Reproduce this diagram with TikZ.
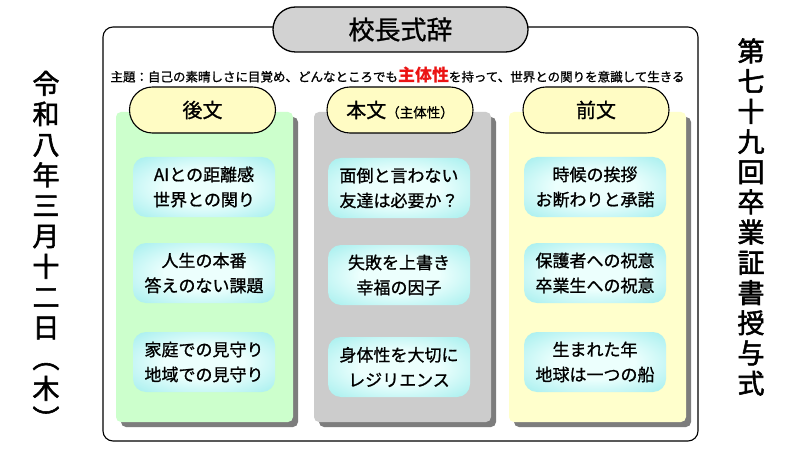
\documentclass[tikz,border=0pt]{standalone}
\usepackage{fontspec}
\setmainfont{Noto Sans CJK JP}
\newfontfamily\jp{Noto Sans CJK JP}
\newfontfamily\jpm[FakeBold=1]{Noto Sans CJK JP}
\newfontfamily\jpv[FakeBold=2]{Noto Sans CJK JP}
\usetikzlibrary{shapes.misc,shadows}
\definecolor{greenp}{RGB}{204,255,204}
\definecolor{grayp}{RGB}{204,204,204}
\definecolor{yellowp}{RGB}{255,255,204}
\definecolor{shadowc}{RGB}{125,125,125}
\definecolor{pillc}{RGB}{255,252,196}
\definecolor{titlec}{RGB}{210,210,210}
\definecolor{boxin}{RGB}{236,255,253}
\definecolor{boxout}{RGB}{118,228,228}
\definecolor{redt}{RGB}{235,20,20}
\pgfdeclareradialshading{cyanrad}{\pgfpoint{0bp}{0bp}}{color(0bp)=(boxin); color(14bp)=(boxin); color(50bp)=(boxout); color(72bp)=(boxout)}
\tikzset{
  frame/.style={draw=black, line width=1.1pt, rounded corners=10pt, fill=white},
  titlepill/.style={rounded rectangle, draw=black, line width=1.3pt, fill=titlec,
    minimum width=255pt, minimum height=45pt, inner sep=0pt,
    font=\jpm\fontsize{26}{30}\selectfont},
  panel/.style={rectangle, rounded corners=5pt, minimum width=177pt, minimum height=310pt,
    general shadow={fill=shadowc, shadow xshift=5pt, shadow yshift=-5pt}},
  pill/.style={rounded rectangle, draw=black, line width=1.1pt, fill=pillc,
    minimum width=146pt, minimum height=46pt, inner sep=0pt,
    font=\jpm\fontsize{20}{24}\selectfont},
  cbox/.style={rectangle, rounded corners=13pt, shade, shading=cyanrad,
    minimum width=142pt, minimum height=60pt, inner sep=0pt, align=center,
    font=\jpm\fontsize{17}{25}\selectfont},
  vtext/.style={align=center, inner sep=0pt},
}
\begin{document}
\begin{tikzpicture}[x=1pt,y=-1pt]
\useasboundingbox (0,0) rectangle (800,449);
\fill[white] (0,0) rectangle (800,449);
% main frame
\draw[frame] (103,27) rectangle (698,441);
\node[titlepill] (title) at (400.5,29.5) {校長式辞};
% theme line
\node[inner sep=0pt, font=\jpm\fontsize{12.5}{14}\selectfont] (theme) at (397.5,75)
  {主題：自己の素晴しさに目覚め、どんなところでも{\color{redt}\jp\bfseries\fontsize{17}{18}\selectfont 主体性}を持って、世界との関りを意識して生きる};
% panels
\node[panel, fill=greenp] (pL) at (204.5,267) {};
\node[panel, fill=grayp] (pM) at (402.5,267) {};
\node[panel, fill=yellowp] (pR) at (597.5,267) {};
% pills
\node[pill] (hL) at (202.5,110) {後文};
\node[pill] (hM) at (400,110) {本文{\fontsize{13.5}{15}\selectfont（主体性）}};
\node[pill] (hR) at (596,110) {前文};
% boxes left
\node[cbox] (L1) at (204,187) {AIとの距離感\\世界との関り};
\node[cbox] (L2) at (204,273) {人生の本番\\答えのない課題};
\node[cbox] (L3) at (204,362) {家庭での見守り\\地域での見守り};
% boxes middle
\node[cbox] (M1) at (399,188) {面倒と言わない\\友達は必要か？};
\node[cbox] (M2) at (399,275) {失敗を上書き\\幸福の因子};
\node[cbox] (M3) at (399,367) {身体性を大切に\\レジリエンス};
% boxes right
\node[cbox] (R1) at (595,187) {時候の挨拶\\お断わりと承諾};
\node[cbox] (R2) at (595,273) {保護者への祝意\\卒業生への祝意};
\node[cbox] (R3) at (595,362) {生まれた年\\地球は一つの船};
% vertical texts
\node[vtext, font=\jpv\fontsize{27}{30.5}\selectfont] (date) at (46,250)
  {令\\和\\八\\年\\三\\月\\十\\二\\日\\︵\\木\\︶};
\node[vtext, font=\jpv\fontsize{27}{30.2}\selectfont] (event) at (751,217)
  {第\\七\\十\\九\\回\\卒\\業\\証\\書\\授\\与\\式};
\end{tikzpicture}
\end{document}
